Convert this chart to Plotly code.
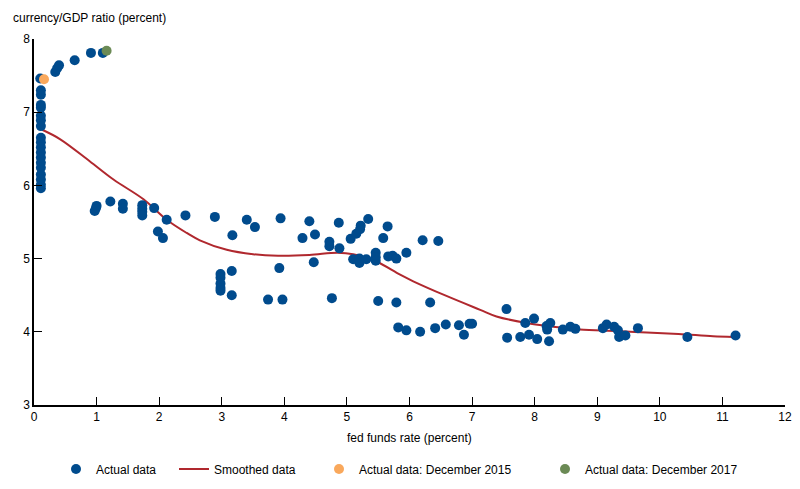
import plotly.graph_objects as go

# actual data: fed funds rate vs currency/GDP ratio
fed_funds = [
    0.10, 0.11, 0.11, 0.11, 0.11, 0.11, 0.11, 0.11, 0.11, 0.11, 0.11, 0.11,
    0.11, 0.11, 0.11, 0.11, 0.11, 0.11, 0.11,
    0.34, 0.37, 0.40, 0.65, 0.91, 1.10,
    0.97, 0.99, 1.00, 1.22, 1.42, 1.42, 1.73, 1.73, 1.73, 1.73, 1.92,
    2.12, 1.98, 2.06, 2.42, 2.89, 3.17, 3.40, 3.53, 3.94,
    2.98, 2.98, 2.98, 2.98, 2.98, 3.16, 3.16, 3.74, 3.97, 3.92,
    4.29, 4.40, 4.49, 4.47, 4.72, 4.72, 4.87, 4.88, 4.76,
    5.06, 5.15, 5.21, 5.22, 5.34, 5.10, 5.20, 5.20, 5.31,
    5.46, 5.46, 5.46, 5.58, 5.65, 5.66, 5.73, 5.79, 5.50, 5.79, 5.82,
    5.95, 6.21, 6.46, 6.33, 5.95, 6.17, 6.41, 6.58, 6.79, 6.87, 6.96, 7.00,
    7.55, 7.56, 7.77, 7.85, 7.91, 7.99, 8.04, 8.19, 8.20, 8.25, 8.23,
    8.45, 8.57, 8.65, 9.09, 9.15, 9.27, 9.33, 9.35, 9.45, 9.65, 10.44, 11.21,
]
currency_gdp = [
    7.46, 7.30, 7.24, 7.10, 7.06, 6.95, 6.89, 6.81, 6.65, 6.59, 6.52, 6.45,
    6.38, 6.31, 6.24, 6.15, 6.08, 6.01, 5.96,
    7.55, 7.60, 7.64, 7.71, 7.81, 7.81,
    5.65, 5.69, 5.72, 5.78, 5.75, 5.68, 5.73, 5.68, 5.64, 5.59, 5.69,
    5.53, 5.37, 5.28, 5.59, 5.57, 5.32, 5.53, 5.43, 5.55,
    4.79, 4.74, 4.66, 4.60, 4.56, 4.83, 4.50, 4.44, 4.44, 4.87,
    5.28, 5.51, 5.33, 4.95, 5.23, 5.17, 5.49, 5.14, 4.46,
    5.27, 5.34, 5.40, 5.45, 5.54, 4.99, 5.00, 4.94, 4.99,
    5.08, 5.02, 4.97, 5.28, 5.44, 5.03, 5.04, 5.00, 4.42, 4.40, 4.06,
    5.08, 5.25, 5.24, 4.40, 4.02, 4.00, 4.05, 4.10, 4.09, 3.96, 4.11, 4.11,
    4.31, 3.92, 3.93, 4.12, 3.96, 4.18, 3.90, 4.08, 4.03, 4.12, 3.87,
    4.03, 4.07, 4.04, 4.05, 4.10, 4.07, 4.02, 3.93, 3.95, 4.05, 3.93, 3.95,
]

# smoothed curve
smooth_x = [0.13, 0.42, 0.89, 1.27, 1.75, 2.12, 2.44, 2.65, 3.08, 3.50, 3.90,
            4.40, 4.85, 5.10, 5.47, 5.85, 6.06, 6.59, 7.13, 7.39, 7.87, 8.30,
            8.72, 9.30, 9.79, 10.30, 10.85, 11.17]
smooth_y = [6.76, 6.63, 6.33, 6.08, 5.81, 5.53, 5.35, 5.25, 5.12, 5.06, 5.04,
            5.05, 5.08, 5.06, 4.96, 4.78, 4.69, 4.49, 4.30, 4.21, 4.12, 4.07,
            4.03, 4.01, 3.99, 3.97, 3.94, 3.93]

# highlighted months
dec2015 = (0.16, 7.45)
dec2017 = (1.16, 7.84)

blue = "#004B8D"
red = "#B0282E"
orange = "#F9A85C"
green = "#6B8A55"
font = dict(family="Liberation Sans, Arial, sans-serif", size=12, color="#000000")

fig = go.Figure()

fig.add_trace(go.Scatter(
    x=smooth_x, y=smooth_y, mode="lines", name="Smoothed data",
    line=dict(color=red, width=2, shape="spline"), legend="legend2",
))
fig.add_trace(go.Scatter(
    x=fed_funds, y=currency_gdp, mode="markers", name="Actual data",
    marker=dict(color=blue, size=10), legend="legend",
))
fig.add_trace(go.Scatter(
    x=[dec2015[0]], y=[dec2015[1]], mode="markers", name="Actual data: December 2015",
    marker=dict(color=orange, size=10), legend="legend3",
))
fig.add_trace(go.Scatter(
    x=[dec2017[0]], y=[dec2017[1]], mode="markers", name="Actual data: December 2017",
    marker=dict(color=green, size=10), legend="legend4",
))

# one legend per entry so each can sit where the original has it
leg = dict(orientation="h", yanchor="middle", y=-0.175, xanchor="left",
           font=font, bgcolor="rgba(0,0,0,0)", itemwidth=30)
plot_w = 751

fig.update_layout(
    width=800, height=489,
    # page body adds 8px, margins account for it
    margin=dict(l=26, r=23, t=31, b=92),
    paper_bgcolor="white", plot_bgcolor="white",
    font=font,
    showlegend=True,
    legend=dict(leg, x=22 / plot_w),
    legend2=dict(leg, x=140 / plot_w),
    legend3=dict(leg, x=285 / plot_w),
    legend4=dict(leg, x=511 / plot_w),
    xaxis=dict(range=[0, 12], tickvals=list(range(0, 13)), showline=True,
               linecolor="black", linewidth=1.5, ticks="inside", ticklen=8,
               tickcolor="black", showgrid=False, zeroline=False, automargin=False),
    yaxis=dict(range=[3, 8], tickvals=[3, 4, 5, 6, 7, 8], showline=True,
               linecolor="black", linewidth=1.5, ticks="inside", ticklen=8,
               tickcolor="black", showgrid=False, zeroline=False, automargin=False),
    annotations=[
        dict(text="currency/GDP ratio (percent)", xref="paper", yref="paper",
             x=0, y=1, xanchor="left", yanchor="bottom", xshift=-23, yshift=12,
             showarrow=False, font=font),
        dict(text="fed funds rate (percent)", xref="paper", yref="paper",
             x=0.5, y=0, xanchor="center", yanchor="middle", yshift=-33,
             showarrow=False, font=font),
    ],
)

fig.write_html("out.html")
